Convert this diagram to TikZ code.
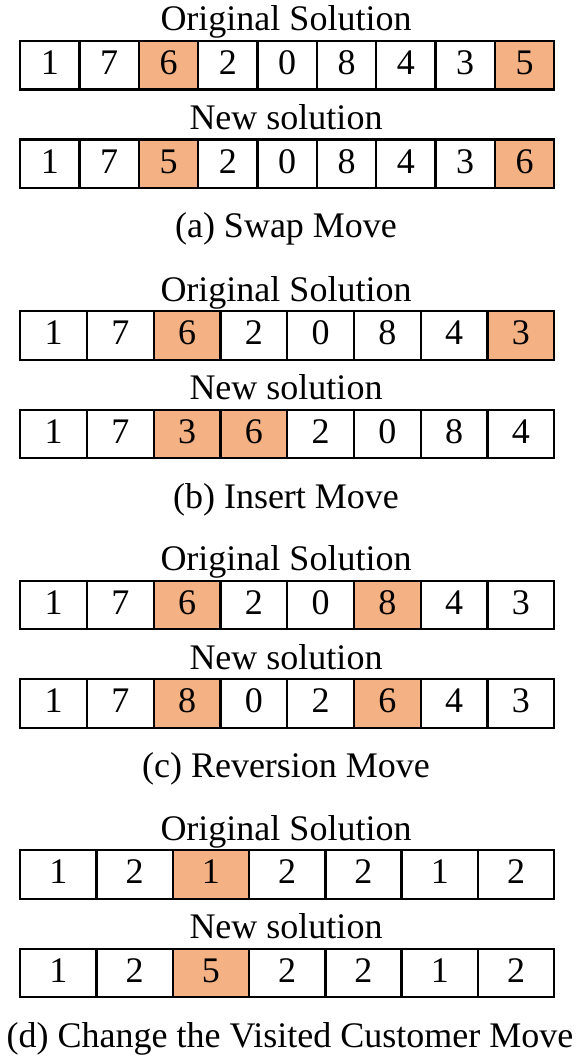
\documentclass[tikz,border=0pt]{standalone}
\usepackage{fontspec}
\setmainfont{Liberation Serif}
\definecolor{hl}{HTML}{F4B183}

% One row of solution cells: #1 name prefix, #2 top edge, #3 number of cells, #4 value/style list
\newcommand\solrow[4]{%
  \foreach \v/\s [count=\i] in {#4} {
    \node[cell, \s, minimum width={534pt/#3}] (#1-\i) at ({19+(\i-1)*534/#3}, #2) {\v};
  }%
}

\begin{document}
\begin{tikzpicture}[x=1pt, y=-1pt,
  txt/.style={font=\fontsize{36}{40}\selectfont},
  cell/.style={txt, draw=black, line width=2.4pt, minimum height=48.5pt,
               inner sep=0pt, text depth=5pt, anchor=north west},
  plain/.style={fill=white},
  hot/.style={fill=hl},
  heading/.style={txt, anchor=base, inner sep=0pt},
]
\useasboundingbox (0,0) rectangle (577,1059);

% (a) swap move
\def\t{40}
\node[heading] (a-orig) at (286, \t-9) {Original Solution};
\solrow{a-o}{\t}{9}{1/plain,7/plain,6/hot,2/plain,0/plain,8/plain,4/plain,3/plain,5/hot}
\node[heading] (a-new) at (286, \t+89.5) {New solution};
\solrow{a-n}{\t+98.5}{9}{1/plain,7/plain,5/hot,2/plain,0/plain,8/plain,4/plain,3/plain,6/hot}
\node[heading] (a-cap) at (286, \t+198) {(a) Swap Move};

% (b) insert move
\def\t{310}
\node[heading] (b-orig) at (286, \t-9) {Original Solution};
\solrow{b-o}{\t}{8}{1/plain,7/plain,6/hot,2/plain,0/plain,8/plain,4/plain,3/hot}
\node[heading] (b-new) at (286, \t+89.5) {New solution};
\solrow{b-n}{\t+98.5}{8}{1/plain,7/plain,3/hot,6/hot,2/plain,0/plain,8/plain,4/plain}
\node[heading] (b-cap) at (286, \t+198) {(b) Insert Move};

% (c) reversion move
\def\t{579.5}
\node[heading] (c-orig) at (286, \t-9) {Original Solution};
\solrow{c-o}{\t}{8}{1/plain,7/plain,6/hot,2/plain,0/plain,8/hot,4/plain,3/plain}
\node[heading] (c-new) at (286, \t+89.5) {New solution};
\solrow{c-n}{\t+98.5}{8}{1/plain,7/plain,8/hot,0/plain,2/plain,6/hot,4/plain,3/plain}
\node[heading] (c-cap) at (286, \t+198) {(c) Reversion Move};

% (d) change the visited customer
\def\t{849}
\node[heading] (d-orig) at (286, \t-9) {Original Solution};
\solrow{d-o}{\t}{7}{1/plain,2/plain,1/hot,2/plain,2/plain,1/plain,2/plain}
\node[heading] (d-new) at (286, \t+89.5) {New solution};
\solrow{d-n}{\t+98.5}{7}{1/plain,2/plain,5/hot,2/plain,2/plain,1/plain,2/plain}
\node[heading] (d-cap) at (290, \t+198) {(d) Change the Visited Customer Move};
\end{tikzpicture}
\end{document}
